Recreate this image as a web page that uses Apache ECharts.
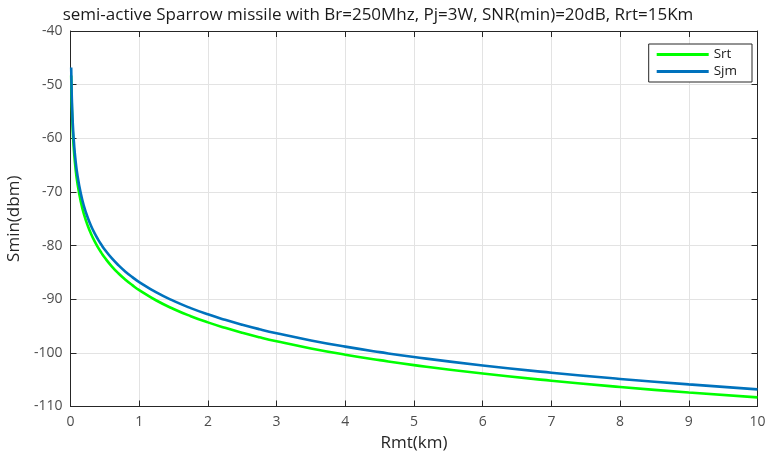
<!DOCTYPE html>
<html>
<head>
<meta charset="utf-8">
<title>Smin vs Rmt</title>
<script src="https://cdn.jsdelivr.net/npm/echarts@6/dist/echarts.min.js"></script>
<style>
  html, body { margin: 0; padding: 0; background: #fff; }
  #chart { width: 766px; height: 454px; }
</style>
</head>
<body>
<div id="chart"></div>
<script>
// Missile-to-target range samples (km)
const rmt = [0.01, 0.015, 0.02, 0.03, 0.04, 0.05, 0.07, 0.1, 0.15, 0.2, 0.25, 0.3, 0.35, 0.4, 0.45, 0.5, 0.6, 0.7, 0.8, 0.9,
             1, 1.25, 1.5, 1.75, 2, 2.25, 2.5, 2.75, 3, 3.5, 4, 4.5, 5, 6, 7, 8, 9, 10];

// Minimum detectable signal, target return (dBm)
const srt = [-48.30, -51.82, -54.32, -57.84, -60.34, -62.28, -65.20, -68.30, -71.82, -74.32, -76.26, -77.84, -79.18, -80.34, -81.36, -82.28,
             -83.86, -85.20, -86.36, -87.38, -88.30, -90.24, -91.82, -93.16, -94.32, -95.34, -96.26, -97.09, -97.84, -99.18, -100.34,
             -101.36, -102.28, -103.86, -105.20, -106.36, -107.38, -108.30];

// Minimum detectable signal, jammer (dBm)
const sjm = [-46.80, -50.32, -52.82, -56.34, -58.84, -60.78, -63.70, -66.80, -70.32, -72.82, -74.76, -76.34, -77.68, -78.84, -79.86, -80.78,
             -82.36, -83.70, -84.86, -85.88, -86.80, -88.74, -90.32, -91.66, -92.82, -93.84, -94.76, -95.59, -96.34, -97.68, -98.84,
             -99.86, -100.78, -102.36, -103.70, -104.86, -105.88, -106.80];

const xTicks = [0, 1, 2, 3, 4, 5, 6, 7, 8, 9, 10];
const yTicks = [-110, -100, -90, -80, -70, -60, -50, -40];

const FONT = 'Open Sans';
const AXIS_COLOR = '#262626';
const LABEL_COLOR = '#4d4d4d';
const GRID_COLOR = '#e3e3e3';

function pairs(xs, ys) { return xs.map((x, i) => [x, ys[i]]); }

const chart = echarts.init(document.getElementById('chart'), null, { renderer: 'canvas' });

const tickStyle = { show: true, inside: true, length: 6, lineStyle: { color: AXIS_COLOR, width: 1 } };

chart.setOption({
  animation: false,
  backgroundColor: '#ffffff',
  title: {
    text: 'semi-active Sparrow missile with Br=250Mhz, Pj=3W, SNR(min)=20dB, Rrt=15Km',
    left: 373, top: 2, textAlign: 'center',
    textStyle: { fontFamily: FONT, fontSize: 17, fontWeight: 'normal', color: '#1a1a1a' }
  },
  legend: {
    data: ['Srt', 'Sjm'],
    orient: 'vertical',
    right: 14, top: 44,
    padding: [3, 15, 3, 8],
    itemGap: 2,
    itemWidth: 52, itemHeight: 3,
    icon: 'rect',
    backgroundColor: '#ffffff',
    borderColor: AXIS_COLOR, borderWidth: 1,
    textStyle: { fontFamily: FONT, fontSize: 13.5, color: '#1a1a1a', lineHeight: 15 }
  },
  grid: { left: 70.5, right: 8.5, top: 31, bottom: 47.5, containLabel: false, outerBoundsMode: 'none' },
  xAxis: [{
    type: 'value', min: 0, max: 10, interval: 1,
    name: 'Rmt(km)', nameLocation: 'middle', nameGap: 27,
    nameTextStyle: { fontFamily: FONT, fontSize: 17, color: '#262626' },
    axisLine: { show: true, onZero: false, lineStyle: { color: AXIS_COLOR, width: 1 } },
    axisTick: tickStyle,
    axisLabel: { fontFamily: FONT, fontSize: 14, color: LABEL_COLOR, margin: 9,
                 formatter: v => xTicks.includes(v) ? String(v) : '' },
    splitLine: { show: true, lineStyle: { color: GRID_COLOR, width: 1 } }
  }, {
    type: 'value', min: 0, max: 10, interval: 1, position: 'top',
    axisLine: { show: true, onZero: false, lineStyle: { color: AXIS_COLOR, width: 1 } },
    axisTick: tickStyle, axisLabel: { show: false }, splitLine: { show: false }
  }],
  yAxis: [{
    type: 'value', min: -110, max: -40, interval: 10,
    name: 'Smin(dbm)', nameLocation: 'middle', nameGap: 45, nameRotate: 90,
    nameTextStyle: { fontFamily: FONT, fontSize: 17, color: '#262626' },
    axisLine: { show: true, onZero: false, lineStyle: { color: AXIS_COLOR, width: 1 } },
    axisTick: tickStyle,
    axisLabel: { fontFamily: FONT, fontSize: 14, color: LABEL_COLOR, margin: 8,
                 formatter: v => yTicks.includes(v) ? String(v) : '' },
    splitLine: { show: true, lineStyle: { color: GRID_COLOR, width: 1 } }
  }, {
    type: 'value', min: -110, max: -40, interval: 10, position: 'right',
    axisLine: { show: true, onZero: false, lineStyle: { color: AXIS_COLOR, width: 1 } },
    axisTick: tickStyle, axisLabel: { show: false }, splitLine: { show: false }
  }],
  series: [{
    name: 'Srt', type: 'line', data: pairs(rmt, srt),
    xAxisIndex: 0, yAxisIndex: 0,
    showSymbol: false, smooth: 0.5,
    lineStyle: { color: '#00ff00', width: 2.6 }, itemStyle: { color: '#00ff00' }, z: 2
  }, {
    name: 'Sjm', type: 'line', data: pairs(rmt, sjm),
    xAxisIndex: 0, yAxisIndex: 0,
    showSymbol: false, smooth: 0.5,
    lineStyle: { color: '#0072bd', width: 2.6 }, itemStyle: { color: '#0072bd' }, z: 3
  }]
});
</script>
</body>
</html>
